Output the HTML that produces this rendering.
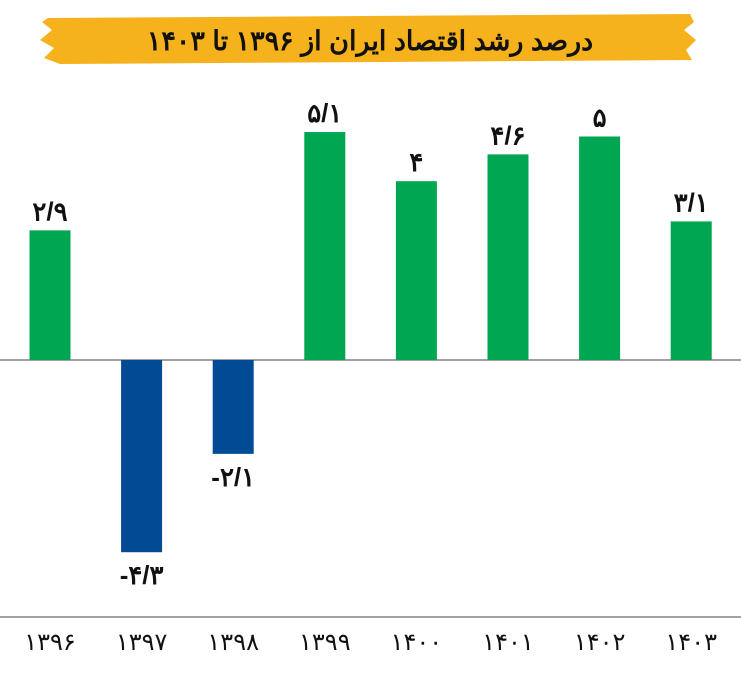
<!DOCTYPE html>
<html><head><meta charset="utf-8">
<style>
html,body{margin:0;padding:0;background:#fff;}
body{width:741px;height:674px;overflow:hidden;font-family:"Liberation Sans","Noto Sans CJK SC",sans-serif;}
svg text{font-family:"Liberation Sans","Noto Sans CJK SC",sans-serif;}
</style></head><body>
<svg id="chart" width="741" height="674" viewBox="0 0 741 674" xmlns="http://www.w3.org/2000/svg">
  <path d="M48,18 L690,14 L694,22 L684,30 L696,40 L686,50 L692,60 L60,64 L44,58 L54,48 L40,40 L52,30 L42,22 Z" fill="#f6b21c"/>
  <text x="370" y="50" text-anchor="middle" font-size="27" font-weight="bold" fill="#111" direction="rtl">درصد رشد اقتصاد ایران از ۱۳۹۶ تا ۱۴۰۳</text>
  <line x1="0" x2="741" y1="360" y2="360" stroke="#444" stroke-width="1"/>
  <line x1="0" x2="741" y1="617" y2="617" stroke="#444" stroke-width="1"/>
  <g id="bars"></g>
</svg>
<script>
const years = ["۱۳۹۶","۱۳۹۷","۱۳۹۸","۱۳۹۹","۱۴۰۰","۱۴۰۱","۱۴۰۲","۱۴۰۳"];
const values = [2.9,-4.3,-2.1,5.1,4,4.6,5,3.1];
const valueLabels = ["۲/۹","-۴/۳","-۲/۱","۵/۱","۴","۴/۶","۵","۳/۱"];
const NS="http://www.w3.org/2000/svg";
const zeroY=360, pxPerUnit=44.7;
function yScale(v){return zeroY - v*pxPerUnit;}
function xCenter(i){return 50 + i*91.6;}
const g=document.getElementById('bars');
const bw=41;
values.forEach((v,i)=>{
  const r=document.createElementNS(NS,'rect');
  
  
  const y0=Math.min(yScale(v),zeroY), h=Math.abs(yScale(v)-zeroY);
  r.setAttribute('x',xCenter(i)-bw/2);r.setAttribute('y',y0);
  r.setAttribute('width',bw);r.setAttribute('height',h);
  r.setAttribute('fill',v>=0?'#00a651':'#004b93');
  g.appendChild(r);
  const t=document.createElementNS(NS,'text');
  
  
  t.setAttribute('x',xCenter(i));
  t.setAttribute('y',v>=0?yScale(v)-10:yScale(v)+32);
  t.setAttribute('text-anchor','middle');
  t.setAttribute('font-size','26');t.setAttribute('font-weight','bold');t.setAttribute('fill','#111');
  t.textContent=valueLabels[i];
  g.appendChild(t);
  const y=document.createElementNS(NS,'text');
  
  
  y.setAttribute('x',xCenter(i));y.setAttribute('y',650);
  y.setAttribute('text-anchor','middle');y.setAttribute('font-size','24');y.setAttribute('fill','#111');
  y.textContent=years[i];
  g.appendChild(y);
});
</script>
</body></html>
